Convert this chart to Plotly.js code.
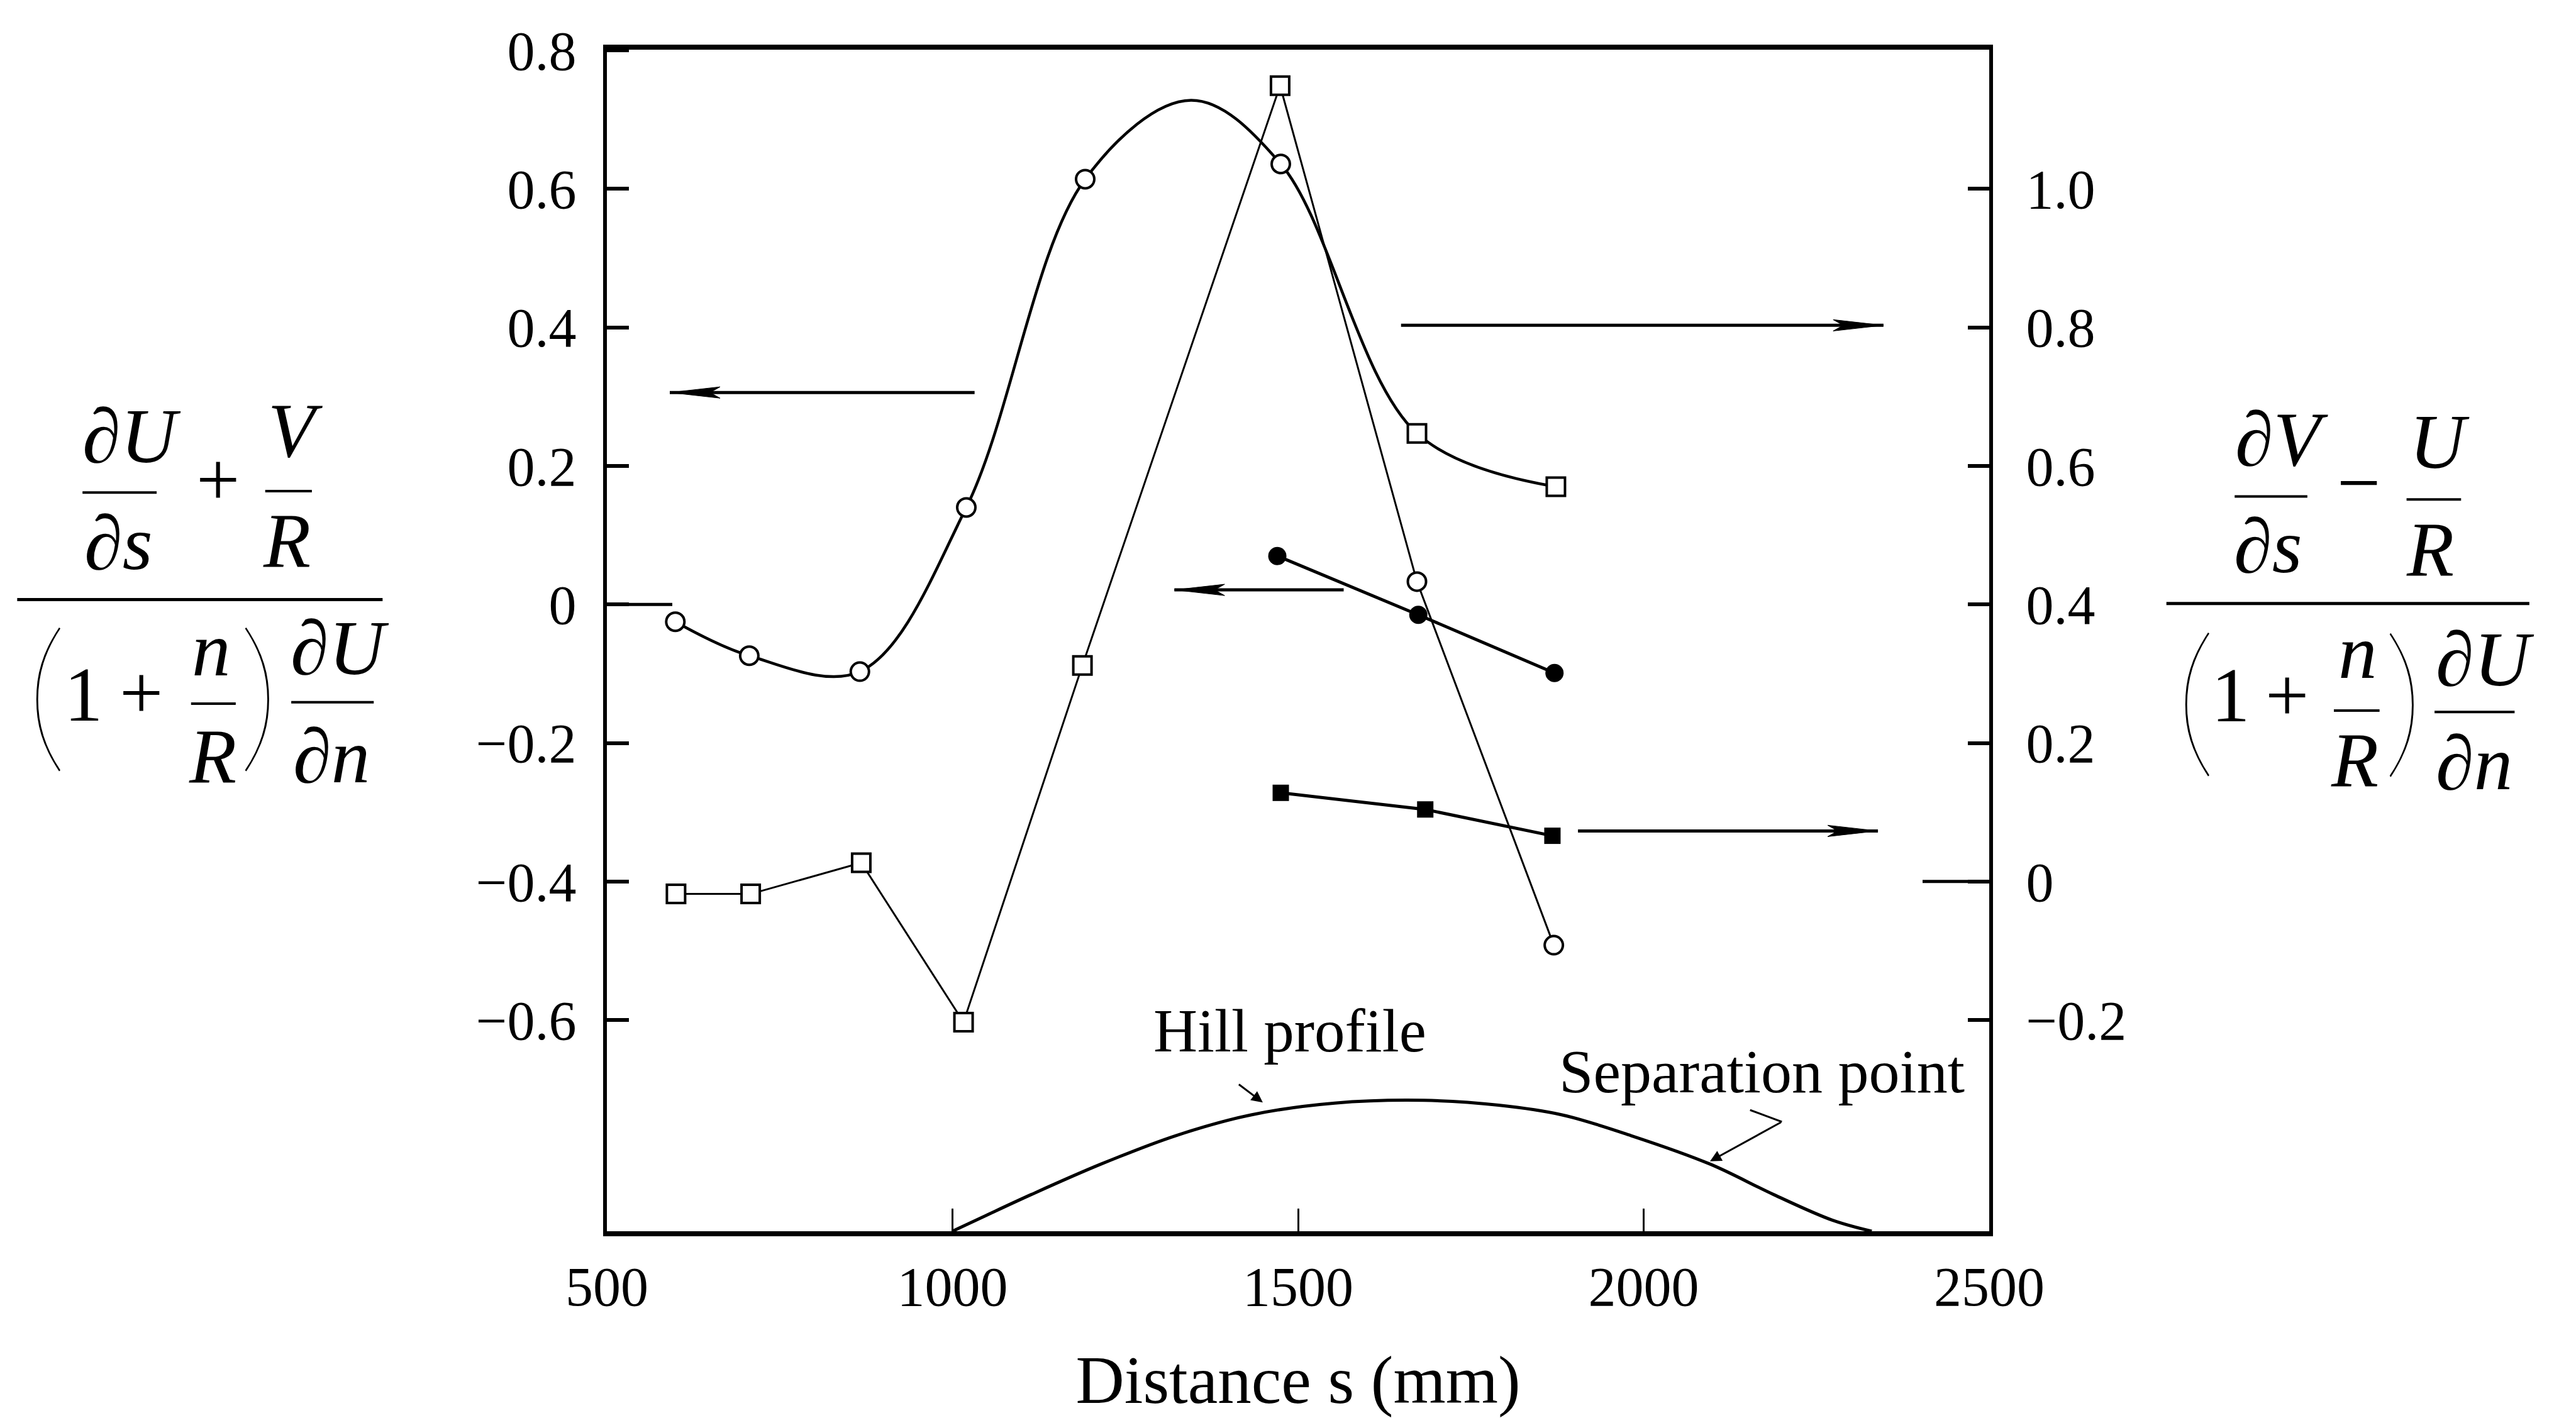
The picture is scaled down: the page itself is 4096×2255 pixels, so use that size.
<!DOCTYPE html>
<html><head><meta charset="utf-8">
<script src="https://cdn.plot.ly/plotly-3.0.1.min.js"></script>
<style>html,body{margin:0;padding:0;background:#fff;}#chart{width:4096px;height:2255px;}</style>
</head><body><div id="chart"></div>
<script>
// ---------------- data ----------------
const xTickVals = [500, 1000, 1500, 2000, 2500];
const xTickText = ['500', '1000', '1500', '2000', '2500'];
const leftTickVals = [0.8, 0.6, 0.4, 0.2, 0, -0.2, -0.4, -0.6];
const leftTickText = ['0.8', '0.6', '0.4', '0.2', '0', '\u22120.2', '\u22120.4', '\u22120.6'];
const rightTickVals = [1.0, 0.8, 0.6, 0.4, 0.2, 0, -0.2];
const rightTickText = ['1.0', '0.8', '0.6', '0.4', '0.2', '0', '\u22120.2'];

// smooth curve (left axis); 'none' = unmarked vertex of the drawn curve (its crest)
const curveAX = [599, 706, 866, 1020, 1192, 1345, 1475, 1672, 1873];
const curveAY = [-0.025, -0.074, -0.097, 0.140, 0.614, 0.728, 0.636, 0.247, 0.170];
const curveAKind = ['circle', 'circle', 'circle', 'circle', 'circle', 'none', 'circle', 'square', 'square'];
// polyline (right axis)
const curveBX = [600, 708, 868, 1016, 1188, 1474, 1672, 1870];
const curveBY = [-0.018, -0.018, 0.027, -0.203, 0.312, 1.149, 0.433, -0.092];
const curveBKind = ['square', 'square', 'square', 'square', 'square', 'square', 'circle', 'circle'];
// filled circles (left axis)
const filledCircX = [1470, 1674, 1871];
const filledCircY = [0.070, -0.015, -0.099];
// filled squares (right axis)
const filledSqX = [1475, 1684, 1868];
const filledSqY = [0.128, 0.104, 0.066];
// hill profile (drawn against the left scale)
const hillX = [1000, 1049, 1114, 1215, 1323, 1432, 1553, 1682, 1790, 1882, 1982, 2096, 2188, 2273, 2330];
const hillY = [-0.905, -0.882, -0.852, -0.808, -0.767, -0.737, -0.720, -0.716, -0.723, -0.737, -0.767, -0.808, -0.852, -0.889, -0.905];

// ---------------- layout helpers ----------------
const FONT = 'Liberation Serif';
const M = {l: 965, r: 933, t: 79, b: 297};
const PW = 4096 - M.l - M.r, PH = 2255 - M.t - M.b;
const S = 4096 / 5245;               // reference px -> page px
const px = X => (X * S - M.l) / PW;   // reference x -> paper
const py = Y => (2255 - M.b - Y * S) / PH;

const annotations = [];
const shapes = [];

function txt(t, X, Y, size, italic, fam, weight) {
  annotations.push({xref: 'paper', yref: 'paper', x: px(X), y: py(Y), xanchor: 'center', yanchor: 'middle',
    showarrow: false, borderpad: 0, text: italic ? '<i>' + t + '</i>' : t,
    font: {family: fam || FONT, size: size, color: '#000', weight: weight || 'normal'}});
}
function paren(t, X, Y) { txt(t, X, Y, 262, false, 'Lato', 200); }
function bar(X0, X1, Y, w) {
  shapes.push({type: 'line', xref: 'paper', yref: 'paper', x0: px(X0), x1: px(X1), y0: py(Y), y1: py(Y),
    line: {color: '#000', width: w}});
}
const F = 123;
// left formula
txt('\u2202U', 268, 888, F, true); bar(168, 319, 1003, 4); txt('\u2202s', 242, 1106, F, true);
txt('+', 444, 976, F, false);
txt('V', 601, 877, F, true); bar(540, 635, 1000, 4); txt('R', 584, 1101, F, true);
bar(35, 779, 1221, 5);
paren('(', 95, 1400); txt('1', 170, 1414, F, false); txt('+', 288, 1411, F, false);
txt('n', 430, 1322, F, true); bar(389, 480, 1433, 4); txt('R', 433, 1540, F, true);
paren(')', 528, 1400);
txt('\u2202U', 692, 1319, F, true); bar(593, 761, 1430, 4); txt('\u2202n', 675, 1540, F, true);
// right formula
txt('\u2202V', 4646, 894, F, true); bar(4550, 4698, 1011, 4); txt('\u2202s', 4618, 1112, F, true);
txt('\u2212', 4803, 983, F, false);
txt('U', 4967, 900, F, true); bar(4900, 5011, 1017, 4); txt('R', 4948, 1118, F, true);
bar(4411, 5150, 1229, 5);
paren('(', 4470, 1410); txt('1', 4542, 1416, F, false); txt('+', 4657, 1416, F, false);
txt('n', 4801, 1327, F, true); bar(4752, 4845, 1447, 4); txt('R', 4794, 1548, F, true);
paren(')', 4894, 1412);
txt('\u2202U', 5060, 1342, F, true); bar(4957, 5120, 1450, 4); txt('\u2202n', 5038, 1554, F, true);

// in-plot labels
annotations.push({x: 1488, y: -0.616, xref: 'x', yref: 'y', text: 'Hill profile', showarrow: false,
  font: {family: FONT, size: 97, color: '#000'}});
annotations.push({x: 2171, y: -0.674, xref: 'x', yref: 'y', text: 'Separation point', showarrow: false,
  font: {family: FONT, size: 98, color: '#000'}});
// pointers
annotations.push({x: 1449, y: -0.719, ax: 1413, ay: -0.692, axref: 'x', ayref: 'y', xref: 'x', yref: 'y',
  text: '', showarrow: true, arrowhead: 2, arrowsize: 1.2, arrowwidth: 3, arrowcolor: '#000'});
annotations.push({x: 2096, y: -0.804, ax: 2200, ay: -0.747, axref: 'x', ayref: 'y', xref: 'x', yref: 'y',
  text: '', showarrow: true, arrowhead: 2, arrowsize: 1.2, arrowwidth: 3, arrowcolor: '#000'});
shapes.push({type: 'line', xref: 'x', yref: 'y', x0: 2200, y0: -0.747, x1: 2154, y1: -0.730, line: {color: '#000', width: 3}});

// direction arrows
const arrows = [
  {yref: 'y', y: 0.306, tail: 1032, head: 591},
  {yref: 'y2', y: 0.803, tail: 1649, head: 2347},
  {yref: 'y', y: 0.021, tail: 1566, head: 1321},
  {yref: 'y2', y: 0.073, tail: 1905, head: 2339}
];
arrows.forEach(a => {
  const d = a.head > a.tail ? 1 : -1;
  shapes.push({type: 'line', xref: 'x', yref: a.yref, x0: a.tail, x1: a.head, y0: a.y, y1: a.y,
    line: {color: '#000', width: 5}});
  shapes.push({type: 'path', xref: 'x', yref: a.yref, xsizemode: 'pixel', ysizemode: 'pixel',
    xanchor: a.head, yanchor: a.y,
    path: 'M0,0 L' + (-d * 80) + ',9 L' + (-d * 64) + ',0 L' + (-d * 80) + ',-9 Z',
    fillcolor: '#000', line: {color: '#000', width: 1}});
});
// long zero ticks
shapes.push({type: 'line', xref: 'paper', yref: 'y', x0: 0, x1: 104 / PW, y0: 0, y1: 0, line: {color: '#000', width: 5}});
shapes.push({type: 'line', xref: 'paper', yref: 'y2', x0: 1, x1: 1 - 106 / PW, y0: 0, y1: 0, line: {color: '#000', width: 5}});

// ---------------- traces ----------------
const markedA = curveAKind.map((k, i) => i).filter(i => curveAKind[i] !== 'none');
const openMarker = sym => ({symbol: sym, size: 29, color: '#ffffff', opacity: 1, line: {color: '#000000', width: 4}});
const traces = [
  {x: hillX, y: hillY, type: 'scatter', mode: 'lines', line: {color: '#000', width: 5, shape: 'spline', smoothing: 1}, yaxis: 'y'},
  {x: curveBX, y: curveBY, type: 'scatter', mode: 'lines+markers', yaxis: 'y2',
    line: {color: '#000', width: 3}, marker: openMarker(curveBKind)},
  {x: curveAX, y: curveAY, type: 'scatter', mode: 'lines', yaxis: 'y',
    line: {color: '#000', width: 4.5, shape: 'spline', smoothing: 1}},
  {x: markedA.map(i => curveAX[i]), y: markedA.map(i => curveAY[i]), type: 'scatter', mode: 'markers', yaxis: 'y',
    marker: openMarker(markedA.map(i => curveAKind[i]))},
  {x: filledCircX, y: filledCircY, type: 'scatter', mode: 'lines+markers', yaxis: 'y',
    line: {color: '#000', width: 5}, marker: {symbol: 'circle', size: 29, color: '#000'}},
  {x: filledSqX, y: filledSqY, type: 'scatter', mode: 'lines+markers', yaxis: 'y2',
    line: {color: '#000', width: 5}, marker: {symbol: 'square', size: 26, color: '#000'}}
];

const tickFont = {family: FONT, size: 88, color: '#000'};
const layout = {
  width: 4096, height: 2255, margin: M, showlegend: false,
  paper_bgcolor: '#fff', plot_bgcolor: '#fff',
  font: {family: FONT, color: '#000'},
  xaxis: {range: [500, 2500], tickvals: xTickVals, ticktext: xTickText, ticks: 'inside', ticklen: 36, tickwidth: 3,
    tickcolor: '#000', showline: true, linewidth: 8, linecolor: '#000', mirror: true, showgrid: false, zeroline: false,
    tickfont: tickFont, ticklabelstandoff: 4,
    title: {text: 'Distance s (mm)', font: {family: FONT, size: 107, color: '#000'}, standoff: 66}},
  yaxis: {range: [-0.905, 0.801], tickvals: leftTickVals, ticktext: leftTickText, ticks: 'inside', ticklen: 35, tickwidth: 6,
    tickcolor: '#000', showline: true, linewidth: 6, linecolor: '#000', showgrid: false, zeroline: false,
    tickfont: tickFont, ticklabelstandoff: 25},
  yaxis2: {range: [-0.505, 1.201], overlaying: 'y', side: 'right', tickvals: rightTickVals, ticktext: rightTickText,
    ticks: 'inside', ticklen: 34, tickwidth: 6, tickcolor: '#000', showline: true, linewidth: 6, linecolor: '#000',
    showgrid: false, zeroline: false, tickfont: tickFont, ticklabelstandoff: 35},
  annotations: annotations,
  shapes: shapes
};
Plotly.newPlot('chart', traces, layout, {staticPlot: true});
</script></body></html>
